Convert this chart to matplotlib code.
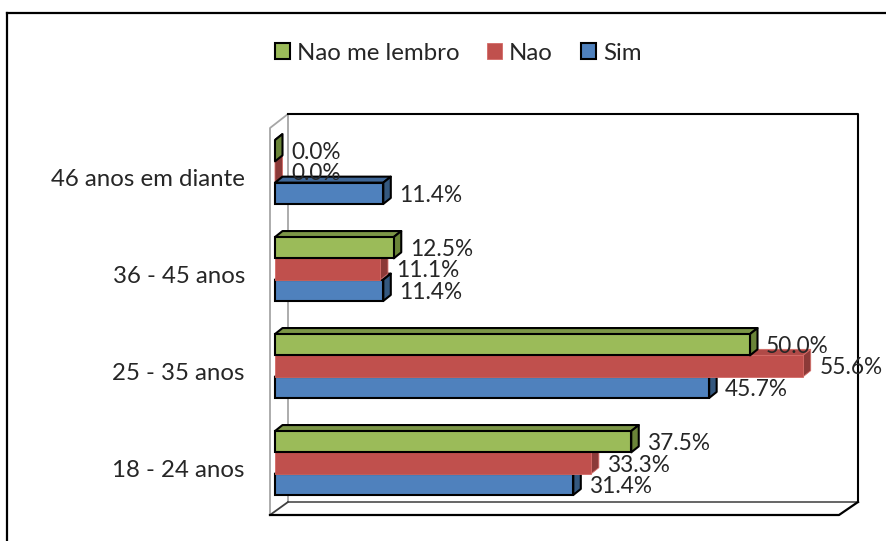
import matplotlib
matplotlib.use("Agg")
import matplotlib.pyplot as plt
from matplotlib.lines import Line2D
from matplotlib.patches import Polygon, Patch

plt.rcParams['font.family'] = ['Lato', 'DejaVu Sans']

categories = ["18 - 24 anos", "25 - 35 anos", "36 - 45 anos", "46 anos em diante"]
sim = [31.4, 45.7, 11.4, 11.4]
nao = [33.3, 55.6, 11.1, 0.0]
nao_lembro = [37.5, 50.0, 12.5, 0.0]

W, H = 886, 541
fig = plt.figure(figsize=(W / 100, H / 100), dpi=100, facecolor="white")

# axes box = front plane of the 3D plot, in pixels
L, R, T, B = 270, 839, 128, 515
ax = fig.add_axes([L / W, 1 - B / H, (R - L) / W, (B - T) / H])
PX_PER_X = 9.5
PX_PER_Y = 97.0
ax.set_xlim(-5 / PX_PER_X, (R - L - 5) / PX_PER_X)
ax.set_ylim(-52 / PX_PER_Y, (B - T - 52) / PX_PER_Y)
ax.patch.set_alpha(0)
for s in ax.spines.values():
    s.set_visible(False)
ax.set_xticks([])
pos = list(range(len(categories)))
ax.set_yticks([p - 5.5 / PX_PER_Y for p in pos])
ax.set_yticklabels(categories, fontsize=17.3, color="#262626")
ax.tick_params(axis="y", length=0, pad=18)


def fx(p):
    return p / W


def fy(p):
    return 1 - p / H


def wall(xs, ys, color, lw):
    fig.add_artist(Line2D([fx(x) for x in xs], [fy(y) for y in ys], color=color, lw=lw,
                          solid_capstyle="projecting", zorder=-1))


# outer chart frame
wall([7, 7], [541, 13], "black", 1.6)
wall([7, 886], [13, 13], "black", 1.6)
# walls and floor
wall([270, 270, 288, 288], [515, 128, 114, 502], "#a6a6a6", 1.3)
wall([288, 858, 858], [114, 114, 502], "black", 1.5)
wall([288, 858], [502, 502], "#595959", 1.3)
wall([270, 288], [515, 502], "#404040", 1.3)
wall([270, 839, 858], [515, 515, 502], "black", 1.6)

DX = 7.5 / PX_PER_X
DY = 6.0 / PX_PER_Y
BAR_H = 21.3 / PX_PER_Y

series = [
    (sim, -BAR_H, "#4F81BD", "#3F6797", "#34587F", "black", 1.5, "Sim"),
    (nao, 0.0, "#C0504D", "#B04A47", "#8C3A38", "#D46A66", 0.6, "Nao"),
    (nao_lembro, BAR_H, "#9BBB59", "#7C9647", "#6A8438", "black", 1.5, "Nao me lembro"),
]

z = 3.0
for i in reversed(pos):
    for vals, off, front, top, side, edge, lw, name in series:
        v = vals[i]
        y = pos[i] + off
        y0, y1 = y - BAR_H / 2, y + BAR_H / 2
        zz = z - 1 if v == 0 else z
        ax.add_patch(Polygon([(0, y1), (DX, y1 + DY), (v + DX, y1 + DY), (v, y1)],
                             fc=top, ec=edge, lw=lw, zorder=zz, clip_on=False, joinstyle="round"))
        ax.add_patch(Polygon([(v, y0), (v, y1), (v + DX, y1 + DY), (v + DX, y0 + DY)],
                             fc=side, ec=edge, lw=lw, zorder=zz, clip_on=False, joinstyle="round"))
        if v > 0:
            ax.barh(y, v, height=BAR_H, color=front, edgecolor=edge, linewidth=lw,
                    zorder=zz + 0.1, clip_on=False)
        z += 0.2

for vals, off, *_ in series:
    for i, v in zip(pos, vals):
        ax.annotate(f"{v:.1f}%", (v, pos[i] + off), xytext=(16, -2), textcoords="offset pixels",
                    ha="left", va="center", fontsize=16.3, color="#262626", zorder=50,
                    annotation_clip=False)

handles = [Patch(fc=s[2], ec=s[5], lw=s[6], label=s[7]) for s in reversed(series)]
fig.legend(handles=handles, loc="center", bbox_to_anchor=(fx(458), fy(53)), ncol=3,
           frameon=False, fontsize=17.3, handlelength=0.62, handleheight=0.62,
           handletextpad=0.3, columnspacing=1.15, labelcolor="#262626")

fig.savefig("out.png", dpi=100, facecolor="white")
